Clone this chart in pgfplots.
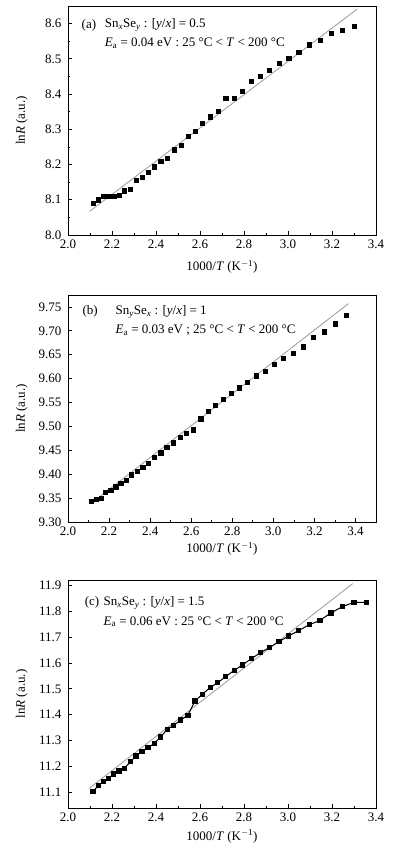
\documentclass[border=0pt]{standalone}
\usepackage{fontspec}
\setmainfont{Liberation Serif}
\usepackage{pgfplots}
\usepackage{pgfplotstable}
\pgfplotsset{compat=1.18}

\pgfplotstableread{
x y
2.114 8.090
2.137 8.100
2.160 8.110
2.183 8.110
2.208 8.110
2.232 8.112
2.257 8.126
2.283 8.129
2.309 8.155
2.336 8.164
2.364 8.178
2.392 8.194
2.421 8.209
2.451 8.218
2.481 8.242
2.513 8.256
2.545 8.281
2.577 8.295
2.611 8.318
2.646 8.336
2.681 8.352
2.717 8.389
2.755 8.389
2.793 8.409
2.833 8.436
2.874 8.451
2.915 8.468
2.959 8.488
3.003 8.502
3.049 8.519
3.096 8.540
3.145 8.553
3.195 8.572
3.247 8.581
3.300 8.593
}\dataA

\pgfplotstableread{
x y
2.114 9.343
2.137 9.347
2.160 9.350
2.183 9.363
2.208 9.367
2.232 9.374
2.257 9.381
2.283 9.388
2.309 9.399
2.336 9.406
2.364 9.414
2.392 9.423
2.421 9.436
2.451 9.445
2.481 9.456
2.513 9.466
2.545 9.477
2.577 9.486
2.611 9.493
2.646 9.516
2.681 9.532
2.717 9.545
2.755 9.557
2.793 9.569
2.833 9.581
2.874 9.592
2.915 9.606
2.959 9.616
3.003 9.630
3.049 9.642
3.096 9.654
3.145 9.667
3.195 9.686
3.247 9.698
3.300 9.715
3.356 9.733
}\dataB

\pgfplotstableread{
x y
2.114 11.104
2.137 11.126
2.160 11.141
2.183 11.155
2.208 11.171
2.232 11.183
2.257 11.194
2.283 11.218
2.309 11.241
2.336 11.258
2.364 11.273
2.392 11.289
2.421 11.314
2.451 11.344
2.481 11.359
2.513 11.380
2.545 11.398
2.577 11.453
2.611 11.479
2.646 11.505
2.681 11.524
2.717 11.547
2.755 11.571
2.793 11.592
2.833 11.616
2.874 11.639
2.915 11.659
2.959 11.682
3.003 11.704
3.049 11.725
3.096 11.747
3.145 11.764
3.195 11.793
3.247 11.817
3.300 11.834
3.356 11.834
}\dataC

\newcommand{\fs}{\fontsize{13}{15.5}\selectfont}

\pgfplotsset{
  panel/.style={
    scale only axis,
    width=308pt,
    axis line style={line width=0.9pt},
    tick align=inside,
    xtick pos=bottom,
    ytick pos=left,
    major tick length=4pt,
    minor tick length=2pt,
    tick style={line width=0.7pt, black},
    xmin=2.0,
    xtick={2.0,2.2,...,3.41},
    minor x tick num=1,
    /pgf/number format/assume math mode=true,
    every tick label/.append style={font=\fs},
    every x tick label/.append style={yshift=-1pt},
    every y tick label/.append style={xshift=-3pt},
    xticklabel style={/pgf/number format/.cd, fixed, fixed zerofill, precision=1},
    xlabel={1000/\textit{T} (K\textsuperscript{$-$1})},
    ylabel={ln\textit{R} (a.u.)},
    every axis y label/.style={at={(axis description cs:-0.15,0.5)}, rotate=90, anchor=center, font=\fs},
  },
  pts/.style={only marks, mark=square*, mark size=2.1pt, black},
  fit/.style={gray!80!white, line width=0.8pt, no marks},
}

\begin{document}
\begin{tikzpicture}
\useasboundingbox (0,0) rectangle (396pt,857pt);

% (a)
\begin{axis}[panel, at={(68pt,622pt)}, anchor=south west,
  height=229pt, xmax=3.4, ymin=8.0, ymax=8.65,
  ytick={8.0,8.1,...,8.61}, minor y tick num=1,
  yticklabel style={/pgf/number format/.cd, fixed, fixed zerofill, precision=1},
  every axis x label/.style={at={(axis description cs:0.5,-0.14)}, anchor=center, font=\fs},
]
\addplot[fit] coordinates {(2.098,8.067) (3.314,8.641)};
\addplot[pts] table[x=x,y=y] {\dataA};
\node[anchor=west, font=\fs] at (rel axis cs:0.033,0.917) {(a)};
\node[anchor=west, font=\fs] at (rel axis cs:0.108,0.917) {Sn\textsubscript{\textit{x}}Se\textsubscript{\textit{y}} : [\textit{y}/\textit{x}] = 0.5};
\node[anchor=west, font=\fs] at (rel axis cs:0.108,0.838) {\textit{E}\textsubscript{a} = 0.04 eV : 25 \textdegree{}C < \textit{T} < 200 \textdegree{}C};
\end{axis}

% (b)
\begin{axis}[panel, at={(68pt,335pt)}, anchor=south west,
  height=227pt, xmax=3.5, ymin=9.30, ymax=9.775,
  ytick={9.30,9.35,...,9.76},
  yticklabel style={/pgf/number format/.cd, fixed, fixed zerofill, precision=2},
  every axis x label/.style={at={(axis description cs:0.5,-0.118)}, anchor=center, font=\fs},
]
\addplot[fit] coordinates {(2.11,9.338) (3.366,9.757)};
\addplot[pts] table[x=x,y=y] {\dataB};
\node[anchor=west, font=\fs] at (rel axis cs:0.036,0.926) {(b)};
\node[anchor=west, font=\fs] at (rel axis cs:0.143,0.926) {Sn\textsubscript{\textit{y}}Se\textsubscript{\textit{x}} : [\textit{y}/\textit{x}] = 1};
\node[anchor=west, font=\fs] at (rel axis cs:0.143,0.846) {\textit{E}\textsubscript{a} = 0.03 eV ; 25 \textdegree{}C < \textit{T} < 200 \textdegree{}C};
\end{axis}

% (c)
\begin{axis}[panel, at={(68pt,49pt)}, anchor=south west,
  height=228pt, xmax=3.4, ymin=11.04, ymax=11.92,
  ytick={11.1,11.2,...,11.91},
  yticklabel style={/pgf/number format/.cd, fixed, fixed zerofill, precision=1},
  every axis x label/.style={at={(axis description cs:0.5,-0.125)}, anchor=center, font=\fs},
]
\addplot[fit] coordinates {(2.095,11.115) (3.294,11.906)};
\addplot[black, line width=1pt, mark=square*, mark size=2.1pt] table[x=x,y=y] {\dataC};
\node[anchor=west, font=\fs] at (rel axis cs:0.043,0.90) {(c)};
\node[anchor=west, font=\fs] at (rel axis cs:0.104,0.90) {Sn\textsubscript{\textit{x}}Se\textsubscript{\textit{y}} : [\textit{y}/\textit{x}] = 1.5};
\node[anchor=west, font=\fs] at (rel axis cs:0.104,0.817) {\textit{E}\textsubscript{a} = 0.06 eV : 25 \textdegree{}C < \textit{T} < 200 \textdegree{}C};
\end{axis}
\end{tikzpicture}
\end{document}
